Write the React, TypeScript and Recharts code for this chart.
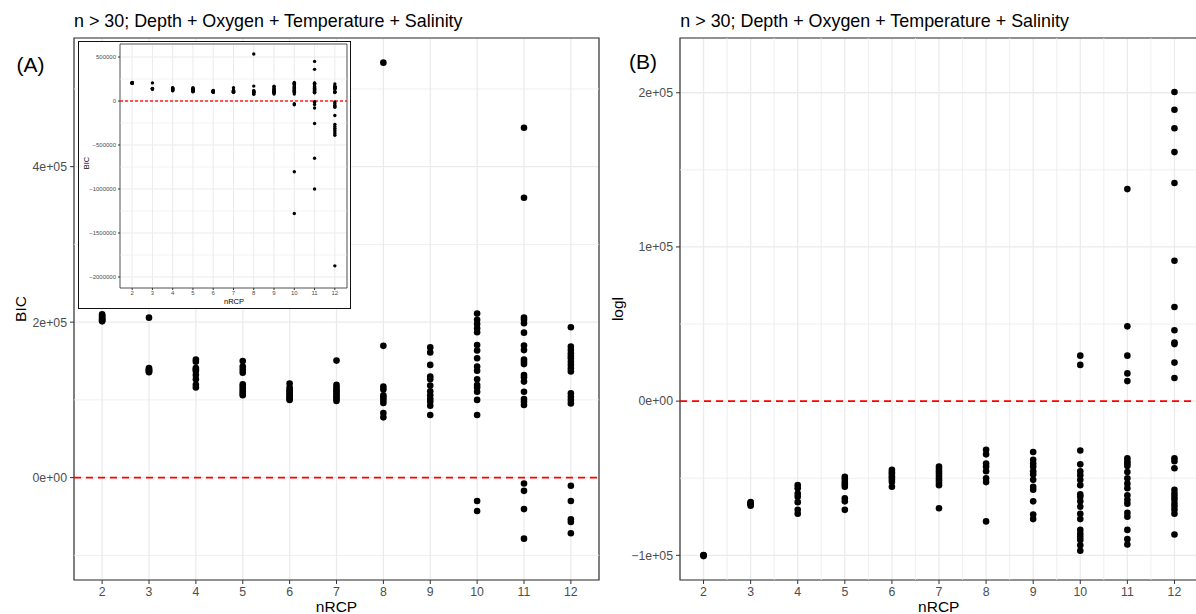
import React from 'react';
import {
  ScatterChart,
  Scatter,
  XAxis,
  YAxis,
  CartesianGrid,
  ReferenceLine,
  ReferenceArea,
} from 'recharts';

const bic2 = [210000, 208500, 207000, 205500, 204000, 203000, 202000, 201000];
const bic3 = [205800, 141000, 139500, 138500, 137500, 136500, 135500];
const bic4 = [152000, 149000, 141000, 139000, 137000, 132000, 126500, 119500, 116000];
const bic5 = [150000, 143000, 139000, 135000, 120000, 117000, 114000, 111000, 108000, 106000];
const bic6 = [121000, 116000, 113000, 111000, 109000, 107000, 105000, 103000, 101000, 100000];
const bic7 = [150500, 119500, 116500, 113500, 111000, 108500, 106000, 103500, 101000, 98500];
const bic8 = [533800, 169500, 117000, 113500, 106000, 103000, 100000, 96000, 83000, 77500];
const bic9 = [167500, 161000, 145000, 130000, 126500, 118500, 111000, 106000, 101000, 97500, 92500, 80500];
const bic10 = [
  211000, 203000, 197500, 192000, 187000, 170500, 163500, 153500, 143000, 137500, 126500, 119000,
  116000, 110500, 100000, 80500, -30000, -43000, -804000, -1278000,
];
const bic11 = [
  450000, 360000, 206000, 203000, 198500, 186500, 170000, 164000, 152000, 149000, 146000, 132000,
  129000, 123500, 110500, 101000, 97500, 93500, -7500, -17000, -40500, -78500, -255000, -650000,
  -1000000,
];
const bic12 = [
  193500, 168500, 164000, 160000, 156500, 153500, 149000, 145000, 140500, 136500, 108500, 104000,
  100000, 95500, -10500, -30000, -53500, -57000, -71500, -164000, -265000, -290000,
  -310000, -330000, -350000, -370000, -390000, -1873000,
];

// log-likelihood values per number of RCPs
const logl2 = [-100000, -100500, -99800];
const logl3 = [-65500, -66000, -66500, -67000, -67800];
const logl4 = [-54500, -56500, -60000, -62000, -65500, -70500, -73000];
const logl5 = [-49000, -50500, -52500, -54000, -55500, -63000, -65000, -70500];
const logl6 = [-44500, -46000, -47000, -48500, -49500, -51000, -52500, -55500];
const logl7 = [-42500, -44000, -45500, -47000, -48500, -50000, -51500, -53000, -54500, -69500];
const logl8 = [-31500, -34500, -40500, -42500, -45500, -50000, -52500, -78000];
const logl9 = [-33000, -38000, -40500, -42500, -45500, -47500, -51000, -55500, -57500, -65000, -73500, -76500];
const logl10 = [
  29500, 23500, -32000, -41000, -45500, -48000, -51000, -54500, -60500, -62000, -65000, -68500,
  -73000, -76500, -83500, -86000, -88000, -90000, -93500, -97000,
];
const logl11 = [
  137500, 48500, 29500, 18000, 13000, -37000, -39000, -40500, -42000, -46000, -50000, -53500,
  -56500, -61000, -64000, -66500, -72500, -75000, -83500, -89500, -93000,
];
const logl12 = [
  200500, 189000, 177000, 161500, 141500, 91000, 61000, 46000, 38000, 37000, 25000, 15000, -37000,
  -39000, -43500, -57500, -60000, -62000, -64000, -66500, -68500, -70500, -73000, -86500,
];

const nRCP = [2, 3, 4, 5, 6, 7, 8, 9, 10, 11, 12];
const bicByN = [bic2, bic3, bic4, bic5, bic6, bic7, bic8, bic9, bic10, bic11, bic12];
const loglByN = [logl2, logl3, logl4, logl5, logl6, logl7, logl8, logl9, logl10, logl11, logl12];

// axis breaks
const bicMainTicks = [0, 200000, 400000];
const bicMainMinor = [-100000, 100000, 300000, 500000];
const loglTicks = [-100000, 0, 100000, 200000];
const loglMinor = [-50000, 50000, 150000];
const loglMinorX = [2.5, 3.5, 4.5, 5.5, 6.5, 7.5, 8.5, 9.5, 10.5, 11.5];
const insetTicks = [500000, 0, -500000, -1000000, -1500000, -2000000];
const insetMinor = [250000, -250000, -750000, -1250000, -1750000];

const A_Y: [number, number] = [-131700, 565500];
const B_Y: [number, number] = [-116000, 235500];
const INSET_Y: [number, number] = [-2125000, 648000];
const X_DISCRETE: [number, number] = [1.4, 12.6];
const X_CONT: [number, number] = [1.5, 12.5];

const FONT = '"Liberation Sans", Arial, Helvetica, sans-serif';
const GRID = '#ebebeb';
const TITLE = 'n > 30; Depth + Oxygen + Temperature + Salinity';

const toPoints = (vals: number[][]) =>
  vals.flatMap((arr, i) => arr.map((v) => ({ x: nRCP[i], y: v })));

const bicPoints = toPoints(bicByN);
const bicMainPoints = bicPoints.filter((p) => p.y >= A_Y[0] && p.y <= A_Y[1]);
const loglPoints = toPoints(loglByN);

const sci = (v: number) => {
  if (v === 0) return '0e+00';
  const e = Math.floor(Math.log10(Math.abs(v)));
  const m = Math.round(Math.abs(v) / Math.pow(10, e));
  return `${v < 0 ? '\u2212' : ''}${m}e${e >= 0 ? '+' : '-'}${String(Math.abs(e)).padStart(2, '0')}`;
};
const plain = (v: number) => (v < 0 ? '\u2212' + Math.abs(v) : String(v));

const dot = (r: number) => (props: any) => <circle cx={props.cx} cy={props.cy} r={r} fill="#000" />;

const tickStyle = { fontSize: 12.3, fill: '#4d4d4d', fontFamily: FONT };
const insetTickStyle = { fontSize: 6, fill: '#4d4d4d', fontFamily: FONT };

const App: React.FC = () => {
  return (
    <div
      style={{
        position: 'absolute',
        left: 0,
        top: 0,
        width: 1196,
        height: 614,
        overflow: 'hidden',
        background: '#fff',
        fontFamily: FONT,
      }}
    >
      {/* (A) main panel */}
      <div style={{ position: 'absolute', left: 0, top: 0 }}>
        <ScatterChart width={600} height={614} margin={{ top: 38, right: 1, bottom: 0, left: 0 }}>
          <CartesianGrid stroke={GRID} strokeWidth={1.3} />
          {bicMainMinor.map((v) => (
            <ReferenceLine key={v} y={v} stroke={GRID} strokeWidth={0.8} />
          ))}
          <XAxis
            type="number"
            dataKey="x"
            domain={X_DISCRETE}
            ticks={nRCP}
            interval={0}
            allowDataOverflow
            height={34}
            axisLine={false}
            tickLine={{ stroke: '#333' }}
            tickSize={4}
            tickMargin={3}
            tick={tickStyle}
          />
          <YAxis
            type="number"
            dataKey="y"
            domain={A_Y}
            ticks={bicMainTicks}
            interval={0}
            allowDataOverflow
            width={74}
            axisLine={false}
            tickLine={{ stroke: '#333' }}
            tickSize={4}
            tickMargin={3}
            tickFormatter={sci}
            tick={tickStyle}
          />
          <ReferenceLine y={0} stroke="#ff0000" strokeWidth={1.7} strokeDasharray="7 5" />
          <Scatter data={bicMainPoints} fill="#000" shape={dot(3.3)} isAnimationActive={false} />
          <ReferenceArea
            x1={X_DISCRETE[0]}
            x2={X_DISCRETE[1]}
            y1={A_Y[0]}
            y2={A_Y[1]}
            fill="none"
            fillOpacity={0}
            stroke="#333"
            strokeWidth={1.2}
          />
        </ScatterChart>
      </div>

      {/* inset: full BIC range */}
      <div
        style={{
          position: 'absolute',
          left: 79,
          top: 42,
          width: 271,
          height: 266,
          background: '#fff',
          outline: '1.6px solid #111',
        }}
      >
        <ScatterChart width={271} height={266} margin={{ top: 2, right: 3, bottom: 0, left: 0 }}>
          <CartesianGrid stroke={GRID} strokeWidth={1} />
          {insetMinor.map((v) => (
            <ReferenceLine key={v} y={v} stroke={GRID} strokeWidth={0.6} />
          ))}
          <XAxis
            type="number"
            dataKey="x"
            domain={X_DISCRETE}
            ticks={nRCP}
            interval={0}
            allowDataOverflow
            height={20}
            axisLine={false}
            tickLine={{ stroke: '#333' }}
            tickSize={2}
            tickMargin={1}
            tick={insetTickStyle}
          />
          <YAxis
            type="number"
            dataKey="y"
            domain={INSET_Y}
            ticks={insetTicks}
            interval={0}
            allowDataOverflow
            width={41}
            axisLine={false}
            tickLine={{ stroke: '#333' }}
            tickSize={2}
            tickMargin={2}
            tickFormatter={plain}
            tick={insetTickStyle}
          />
          <ReferenceLine y={0} stroke="#ff2020" strokeWidth={1.3} strokeDasharray="3 2" />
          <Scatter data={bicPoints} fill="#000" shape={dot(1.7)} isAnimationActive={false} />
          <ReferenceArea
            x1={X_DISCRETE[0]}
            x2={X_DISCRETE[1]}
            y1={INSET_Y[0]}
            y2={INSET_Y[1]}
            fill="none"
            fillOpacity={0}
            stroke="#333"
            strokeWidth={0.8}
          />
        </ScatterChart>
      </div>

      {/* (B) logl panel */}
      <div style={{ position: 'absolute', left: 600, top: 0 }}>
        <ScatterChart width={600} height={614} margin={{ top: 38, right: 2, bottom: 0, left: 0 }}>
          <CartesianGrid stroke={GRID} strokeWidth={1.3} />
          {loglMinor.map((v) => (
            <ReferenceLine key={'h' + v} y={v} stroke={GRID} strokeWidth={0.8} />
          ))}
          {loglMinorX.map((v) => (
            <ReferenceLine key={'v' + v} x={v} stroke={GRID} strokeWidth={0.8} />
          ))}
          <XAxis
            type="number"
            dataKey="x"
            domain={X_CONT}
            ticks={nRCP}
            interval={0}
            allowDataOverflow
            height={34}
            axisLine={false}
            tickLine={{ stroke: '#333' }}
            tickSize={4}
            tickMargin={3}
            tick={tickStyle}
          />
          <YAxis
            type="number"
            dataKey="y"
            domain={B_Y}
            ticks={loglTicks}
            interval={0}
            allowDataOverflow
            width={80}
            axisLine={false}
            tickLine={{ stroke: '#333' }}
            tickSize={4}
            tickMargin={3}
            tickFormatter={sci}
            tick={tickStyle}
          />
          <ReferenceLine y={0} stroke="#ff0000" strokeWidth={1.7} strokeDasharray="7 5" />
          <Scatter data={loglPoints} fill="#000" shape={dot(3.3)} isAnimationActive={false} />
          <ReferenceArea
            x1={X_CONT[0]}
            x2={X_CONT[1]}
            y1={B_Y[0]}
            y2={B_Y[1]}
            fill="none"
            fillOpacity={0}
            stroke="#333"
            strokeWidth={1.2}
          />
        </ScatterChart>
      </div>

      {/* titles, axis titles and panel letters */}
      <svg
        width={1196}
        height={614}
        style={{ position: 'absolute', left: 0, top: 0, pointerEvents: 'none' }}
        fontFamily={FONT}
      >
        <text x={74} y={26.7} fontSize={17.9} fill="#000">{TITLE}</text>
        <text x={680.3} y={26.7} fontSize={17.9} fill="#000">{TITLE}</text>
        <text x={16.5} y={72} fontSize={21} fill="#000">(A)</text>
        <text x={629} y={68.5} fontSize={21} fill="#000">(B)</text>
        <text x={336.5} y={612} fontSize={15.5} fill="#000" textAnchor="middle">nRCP</text>
        <text x={938.8} y={612} fontSize={15.5} fill="#000" textAnchor="middle">nRCP</text>
        <text x={25.5} y={309} fontSize={15.5} fill="#000" textAnchor="middle" transform="rotate(-90 25.5 309)">BIC</text>
        <text x={623} y={309} fontSize={15.5} fill="#000" textAnchor="middle" transform="rotate(-90 623 309)">logl</text>
        <text x={88.5} y={163} fontSize={7.5} fill="#000" textAnchor="middle" transform="rotate(-90 88.5 163)">BIC</text>
        <text x={234} y={304} fontSize={7.5} fill="#000" textAnchor="middle">nRCP</text>
      </svg>
    </div>
  );
};

export default App;
